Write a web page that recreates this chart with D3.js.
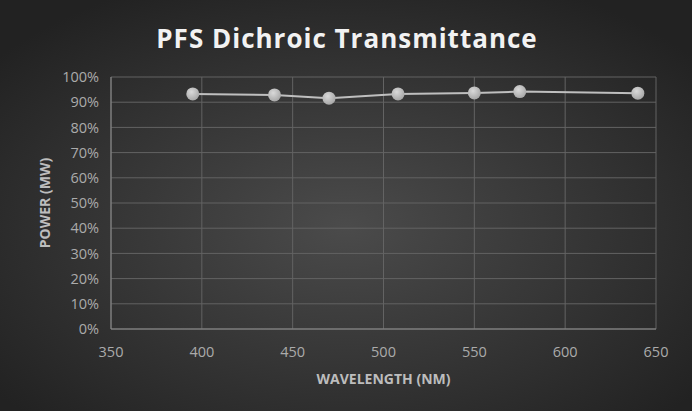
<!DOCTYPE html>
<html>
<head>
<meta charset="utf-8">
<script src="https://cdn.jsdelivr.net/npm/d3@7"></script>
<style>
  html, body { margin: 0; padding: 0; background: #2b2b2b; }
  svg { display: block; }
</style>
</head>
<body>
<div id="chart"></div>
<script>
var wavelengths = [395, 440, 470, 508, 550, 575, 640];
var transmittance = [0.933, 0.929, 0.916, 0.933, 0.937, 0.942, 0.936];
var xTicks = [350, 400, 450, 500, 550, 600, 650];
var yTicks = [0, 0.1, 0.2, 0.3, 0.4, 0.5, 0.6, 0.7, 0.8, 0.9, 1.0];

var size = { width: 692, height: 411 };
var plot = { left: 111, right: 656, top: 77, bottom: 329 };

var svg = d3.select("#chart").append("svg")
    .attr("width", size.width)
    .attr("height", size.height);

// Background gradient
var defs = svg.append("defs");
var grad = defs.append("radialGradient")
    .attr("id", "bg")
    .attr("cx", "50%").attr("cy", "55%").attr("r", "65%");
grad.append("stop").attr("offset", "0%").attr("stop-color", "#4b4b4b");
grad.append("stop").attr("offset", "100%").attr("stop-color", "#222222");

var mk = defs.append("radialGradient")
    .attr("id", "marker")
    .attr("cx", "40%").attr("cy", "35%").attr("r", "65%");
mk.append("stop").attr("offset", "0%").attr("stop-color", "#d9d9d9");
mk.append("stop").attr("offset", "100%").attr("stop-color", "#a8a8a8");

svg.append("rect")
    .attr("width", size.width)
    .attr("height", size.height)
    .attr("fill", "url(#bg)");

var x = d3.scaleLinear().domain([350, 650]).range([plot.left, plot.right]);
var y = d3.scaleLinear().domain([0, 1]).range([plot.bottom, plot.top]);

// Gridlines
svg.append("g").selectAll("line")
    .data(yTicks)
    .enter().append("line")
    .attr("x1", plot.left).attr("x2", plot.right)
    .attr("y1", d => y(d)).attr("y2", d => y(d))
    .attr("stroke", "#636363").attr("stroke-width", 1);

svg.append("g").selectAll("line")
    .data(xTicks)
    .enter().append("line")
    .attr("x1", d => x(d)).attr("x2", d => x(d))
    .attr("y1", plot.top).attr("y2", plot.bottom)
    .attr("stroke", "#636363").attr("stroke-width", 1);

// Axis lines
svg.append("line")
    .attr("x1", plot.left).attr("x2", plot.right)
    .attr("y1", plot.bottom).attr("y2", plot.bottom)
    .attr("stroke", "#8c8c8c");
svg.append("line")
    .attr("x1", plot.left).attr("x2", plot.left)
    .attr("y1", plot.top).attr("y2", plot.bottom)
    .attr("stroke", "#8c8c8c");

// Tick labels
var font = "'Open Sans', 'DejaVu Sans', sans-serif";
svg.append("g").selectAll("text")
    .data(yTicks)
    .enter().append("text")
    .attr("x", plot.left - 12)
    .attr("y", d => y(d))
    .attr("dy", "0.36em")
    .attr("text-anchor", "end")
    .attr("font-family", font)
    .attr("font-size", 14.5)
    .attr("fill", "#ababab")
    .text(d => d3.format(".0%")(d));

svg.append("g").selectAll("text")
    .data(xTicks)
    .enter().append("text")
    .attr("x", d => x(d))
    .attr("y", plot.bottom + 28)
    .attr("text-anchor", "middle")
    .attr("font-family", font)
    .attr("font-size", 14.5)
    .attr("fill", "#ababab")
    .text(d => d);

// Axis titles
svg.append("text")
    .attr("x", (plot.left + plot.right) / 2)
    .attr("y", 384)
    .attr("text-anchor", "middle")
    .attr("font-family", font)
    .attr("font-weight", "bold")
    .attr("font-size", 14)
    .attr("fill", "#bdbdbd")
    .text("WAVELENGTH (NM)");

svg.append("text")
    .attr("transform", "translate(50," + ((plot.top + plot.bottom) / 2) + ") rotate(-90)")
    .attr("text-anchor", "middle")
    .attr("font-family", font)
    .attr("font-weight", "bold")
    .attr("font-size", 14)
    .attr("fill", "#bdbdbd")
    .text("POWER (MW)");

// Title
svg.append("text")
    .attr("x", 347)
    .attr("y", 48)
    .attr("text-anchor", "middle")
    .attr("font-family", font)
    .attr("font-weight", "bold")
    .attr("font-size", 26)
    .attr("letter-spacing", 1)
    .attr("fill", "#f2f2f2")
    .text("PFS Dichroic Transmittance");

// Series
var data = wavelengths.map((w, i) => ({ w: w, v: transmittance[i] }));

svg.append("path")
    .datum(data)
    .attr("fill", "none")
    .attr("stroke", "#bfbfbf")
    .attr("stroke-width", 2)
    .attr("d", d3.line().x(d => x(d.w)).y(d => y(d.v)));

svg.append("g").selectAll("circle")
    .data(data)
    .enter().append("circle")
    .attr("cx", d => x(d.w))
    .attr("cy", d => y(d.v))
    .attr("r", 6.5)
    .attr("fill", "url(#marker)");
</script>
</body>
</html>
